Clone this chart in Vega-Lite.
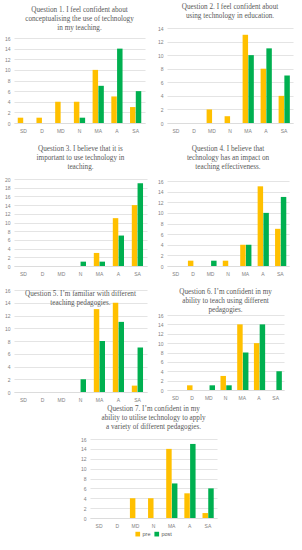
{
  "$schema": "https://vega.github.io/schema/vega-lite/v6.json",
  "padding": {"left": 4, "top": 3, "right": 2, "bottom": 1},
  "datasets": {
    "survey": [
      {"q":1,"cat":"SD","series":"pre","value":1},{"q":1,"cat":"D","series":"pre","value":1},{"q":1,"cat":"MD","series":"pre","value":4},{"q":1,"cat":"N","series":"pre","value":4},{"q":1,"cat":"MA","series":"pre","value":10},{"q":1,"cat":"A","series":"pre","value":5},{"q":1,"cat":"SA","series":"pre","value":3},
      {"q":1,"cat":"N","series":"post","value":1},{"q":1,"cat":"MA","series":"post","value":7},{"q":1,"cat":"A","series":"post","value":14},{"q":1,"cat":"SA","series":"post","value":6},
      {"q":2,"cat":"MD","series":"pre","value":2},{"q":2,"cat":"N","series":"pre","value":1},{"q":2,"cat":"MA","series":"pre","value":13},{"q":2,"cat":"A","series":"pre","value":8},{"q":2,"cat":"SA","series":"pre","value":4},
      {"q":2,"cat":"MA","series":"post","value":10},{"q":2,"cat":"A","series":"post","value":11},{"q":2,"cat":"SA","series":"post","value":7},
      {"q":3,"cat":"MA","series":"pre","value":3},{"q":3,"cat":"A","series":"pre","value":11},{"q":3,"cat":"SA","series":"pre","value":14},
      {"q":3,"cat":"N","series":"post","value":1},{"q":3,"cat":"MA","series":"post","value":1},{"q":3,"cat":"A","series":"post","value":7},{"q":3,"cat":"SA","series":"post","value":19},
      {"q":4,"cat":"D","series":"pre","value":1},{"q":4,"cat":"N","series":"pre","value":1},{"q":4,"cat":"MA","series":"pre","value":4},{"q":4,"cat":"A","series":"pre","value":15},{"q":4,"cat":"SA","series":"pre","value":7},
      {"q":4,"cat":"MD","series":"post","value":1},{"q":4,"cat":"MA","series":"post","value":4},{"q":4,"cat":"A","series":"post","value":10},{"q":4,"cat":"SA","series":"post","value":13},
      {"q":5,"cat":"MA","series":"pre","value":13},{"q":5,"cat":"A","series":"pre","value":14},{"q":5,"cat":"SA","series":"pre","value":1},
      {"q":5,"cat":"N","series":"post","value":2},{"q":5,"cat":"MA","series":"post","value":8},{"q":5,"cat":"A","series":"post","value":11},{"q":5,"cat":"SA","series":"post","value":7},
      {"q":6,"cat":"D","series":"pre","value":1},{"q":6,"cat":"N","series":"pre","value":3},{"q":6,"cat":"MA","series":"pre","value":14},{"q":6,"cat":"A","series":"pre","value":10},
      {"q":6,"cat":"MD","series":"post","value":1},{"q":6,"cat":"N","series":"post","value":1},{"q":6,"cat":"MA","series":"post","value":8},{"q":6,"cat":"A","series":"post","value":14},{"q":6,"cat":"SA","series":"post","value":4},
      {"q":7,"cat":"MD","series":"pre","value":4},{"q":7,"cat":"N","series":"pre","value":4},{"q":7,"cat":"MA","series":"pre","value":14},{"q":7,"cat":"A","series":"pre","value":5},{"q":7,"cat":"SA","series":"pre","value":1},
      {"q":7,"cat":"MA","series":"post","value":7},{"q":7,"cat":"A","series":"post","value":15},{"q":7,"cat":"SA","series":"post","value":6}
    ]
  },
  "config": {
    "view": {"stroke": null},
    "font": "Liberation Sans",
    "axis": {"labelFontSize": 5, "labelColor": "#7f7f7f", "ticks": false, "domain": false, "gridColor": "#d9d9d9", "gridWidth": 0.7, "labelPadding": 4, "title": null},
    "axisX": {"grid": false, "domain": true, "domainColor": "#d9d9d9", "domainWidth": 0.7, "labelAngle": 0, "labelPadding": 5},
    "title": {"font": "Liberation Serif", "fontSize": 7.2, "fontWeight": "normal", "color": "#595959", "lineHeight": 8.8, "anchor": "middle", "frame": "group", "offset": 5},
    "legend": {"layout": {"bottom": {"anchor": "middle"}}},
    "bar": {"stroke": null}
  },
  "spacing": 3,
  "center": true,
  "resolve": {"scale": {"color": "independent"}, "legend": {"color": "independent"}},
  "vconcat": [
    {
      "spacing": 10,
      "resolve": {"scale": {"color": "independent"}, "legend": {"color": "independent"}},
      "hconcat": [
        {
          "spacing": 12,
          "resolve": {"scale": {"color": "independent"}, "legend": {"color": "independent"}},
          "vconcat": [
            {
              "width": 131, "height": 95,
              "title": {"text": ["Question 1. I feel confident about", "conceptualising the use of technology", "in my teaching."], "offset": 0, "dy": 3},
              "data": {"name": "survey"},
              "transform": [{"filter": "datum.q == 1"}],
              "mark": "bar",
              "encoding": {
                "x": {"field": "cat", "type": "nominal", "scale": {"domain": ["SD","D","MD","N","MA","A","SA"], "paddingInner": 0.4, "paddingOuter": 0.2}},
                "xOffset": {"field": "series", "scale": {"domain": ["pre","post"], "paddingInner": 0.05}},
                "y": {"field": "value", "type": "quantitative", "scale": {"domain": [0,16], "range": [95, 10]}, "axis": {"values": [0,2,4,6,8,10,12,14,16]}},
                "color": {"field": "series", "scale": {"domain": ["pre","post"], "range": ["#FFC000","#00B050"]}, "legend": null}
              }
            },
            {
              "width": 133, "height": 87,
              "title": {"text": ["Question 3. I believe that it is", "important to use technology in", "teaching."], "offset": 7},
              "data": {"name": "survey"},
              "transform": [{"filter": "datum.q == 3"}],
              "mark": "bar",
              "encoding": {
                "x": {"field": "cat", "type": "nominal", "scale": {"domain": ["SD","D","MD","N","MA","A","SA"], "paddingInner": 0.4, "paddingOuter": 0.2}},
                "xOffset": {"field": "series", "scale": {"domain": ["pre","post"], "paddingInner": 0.05}},
                "y": {"field": "value", "type": "quantitative", "scale": {"domain": [0,20]}, "axis": {"values": [0,2,4,6,8,10,12,14,16,18,20]}},
                "color": {"field": "series", "scale": {"domain": ["pre","post"], "range": ["#FFC000","#00B050"]}, "legend": null}
              }
            },
            {
              "width": 133, "height": 102,
              "title": {"text": ["Question 5. I\u2019m familiar with different", "teaching pedagogies."], "offset": 0, "dy": 18},
              "data": {"name": "survey"},
              "transform": [{"filter": "datum.q == 5"}],
              "mark": "bar",
              "encoding": {
                "x": {"field": "cat", "type": "nominal", "scale": {"domain": ["SD","D","MD","N","MA","A","SA"], "paddingInner": 0.4, "paddingOuter": 0.2}},
                "xOffset": {"field": "series", "scale": {"domain": ["pre","post"], "paddingInner": 0.05}},
                "y": {"field": "value", "type": "quantitative", "scale": {"domain": [0,16]}, "axis": {"values": [0,2,4,6,8,10,12,14,16]}},
                "color": {"field": "series", "scale": {"domain": ["pre","post"], "range": ["#FFC000","#00B050"]}, "legend": null}
              }
            }
          ]
        },
        {
          "spacing": 12,
          "resolve": {"scale": {"color": "independent"}, "legend": {"color": "independent"}},
          "vconcat": [
            {
              "width": 126, "height": 95,
              "title": {"text": ["Question 2. I feel confident about", "using technology in education."], "offset": 7},
              "data": {"name": "survey"},
              "transform": [{"filter": "datum.q == 2"}],
              "mark": "bar",
              "encoding": {
                "x": {"field": "cat", "type": "nominal", "scale": {"domain": ["SD","D","MD","N","MA","A","SA"], "paddingInner": 0.4, "paddingOuter": 0.2}},
                "xOffset": {"field": "series", "scale": {"domain": ["pre","post"], "paddingInner": 0.05}},
                "y": {"field": "value", "type": "quantitative", "scale": {"domain": [0,14]}, "axis": {"values": [0,2,4,6,8,10,12,14]}},
                "color": {"field": "series", "scale": {"domain": ["pre","post"], "range": ["#FFC000","#00B050"]}, "legend": null}
              }
            },
            {
              "width": 122, "height": 85,
              "title": {"text": ["Question 4. I believe that", "technology has an impact on", "teaching effectiveness."], "offset": 9},
              "data": {"name": "survey"},
              "transform": [{"filter": "datum.q == 4"}],
              "mark": "bar",
              "encoding": {
                "x": {"field": "cat", "type": "nominal", "scale": {"domain": ["SD","D","MD","N","MA","A","SA"], "paddingInner": 0.4, "paddingOuter": 0.2}},
                "xOffset": {"field": "series", "scale": {"domain": ["pre","post"], "paddingInner": 0.05}},
                "y": {"field": "value", "type": "quantitative", "scale": {"domain": [0,16]}, "axis": {"values": [0,2,4,6,8,10,12,14,16]}},
                "color": {"field": "series", "scale": {"domain": ["pre","post"], "range": ["#FFC000","#00B050"]}, "legend": null}
              }
            },
            {
              "width": 117, "height": 75,
              "title": {"text": ["Question 6. I\u2019m confident in my", "ability to teach using different", "pedagogies."], "offset": 0},
              "data": {"name": "survey"},
              "transform": [{"filter": "datum.q == 6"}],
              "mark": "bar",
              "encoding": {
                "x": {"field": "cat", "type": "nominal", "scale": {"domain": ["SD","D","MD","N","MA","A","SA"], "paddingInner": 0.4, "paddingOuter": 0.2}},
                "xOffset": {"field": "series", "scale": {"domain": ["pre","post"], "paddingInner": 0.05}},
                "y": {"field": "value", "type": "quantitative", "scale": {"domain": [0,16]}, "axis": {"values": [0,2,4,6,8,10,12,14,16]}},
                "color": {"field": "series", "scale": {"domain": ["pre","post"], "range": ["#FFC000","#00B050"]}, "legend": null}
              }
            }
          ]
        }
      ]
    },
    {
      "width": 127, "height": 79,
      "title": {"text": ["Question 7. I\u2019m confident in my", "ability to utilise technology to apply", "a variety of different pedagogies."], "offset": 7},
      "data": {"name": "survey"},
      "transform": [{"filter": "datum.q == 7"}],
      "mark": "bar",
      "encoding": {
        "x": {"field": "cat", "type": "nominal", "scale": {"domain": ["SD","D","MD","N","MA","A","SA"], "paddingInner": 0.4, "paddingOuter": 0.2}},
        "xOffset": {"field": "series", "scale": {"domain": ["pre","post"], "paddingInner": 0.05}},
        "y": {"field": "value", "type": "quantitative", "scale": {"domain": [0,16]}, "axis": {"values": [0,2,4,6,8,10,12,14,16]}},
        "color": {"field": "series", "scale": {"domain": ["pre","post"], "range": ["#FFC000","#00B050"]},
          "legend": {"orient": "bottom", "direction": "horizontal", "title": null, "symbolType": "square", "symbolSize": 22, "symbolStrokeWidth": 0, "labelFontSize": 5.5, "labelColor": "#595959", "offset": 3, "columnPadding": 3, "labelOffset": 2}}
      }
    }
  ]
}
